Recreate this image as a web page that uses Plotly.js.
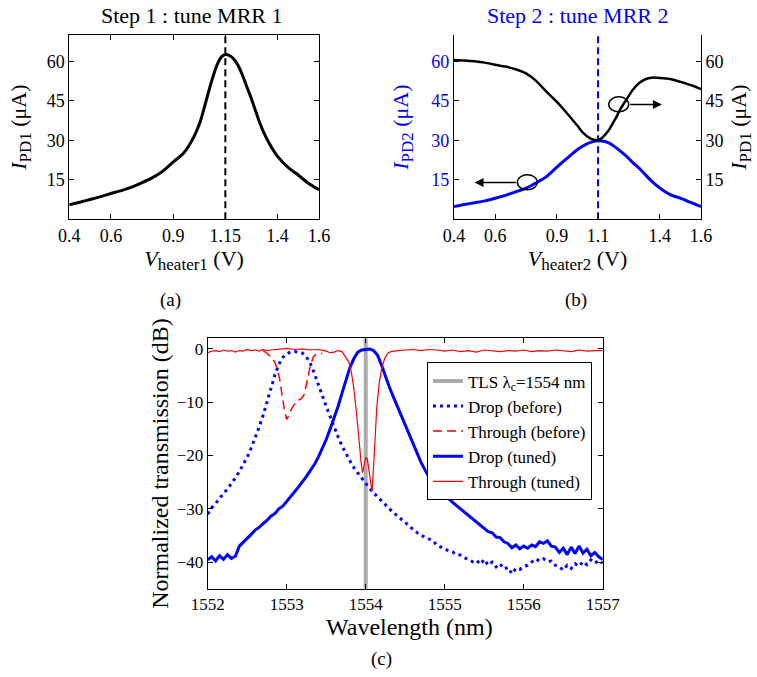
<!DOCTYPE html>
<html><head><meta charset="utf-8">
<script src="https://cdn.plot.ly/plotly-3.0.1.min.js"></script>
<style>html,body{margin:0;padding:0;background:#fff}</style>
</head><body><div id="chart" style="width:757px;height:677px"></div>
<script>
// ---- Panel (a): step 1 ----
const aVoltage = [0.40,0.45,0.50,0.55,0.60,0.65,0.70,0.75,0.80,0.85,0.90,0.95,1.00,1.03,1.05,1.07,1.09,1.11,1.13,1.15,1.17,1.19,1.21,1.23,1.25,1.27,1.29,1.31,1.33,1.36,1.40,1.45,1.50,1.55,1.60];
const aCurrent = [5.5,6.5,7.5,8.6,9.8,10.9,12.2,13.9,15.8,18.3,21.8,25.2,31.5,37.2,42.8,48.6,54.0,58.6,61.6,62.6,62.2,60.9,58.6,55.2,51.0,46.9,42.4,37.8,33.8,29.0,24.0,19.8,16.8,13.6,11.2];
const aTuneV = 1.15;
// ---- Panel (b): step 2 ----
const bVoltage = [0.40,0.45,0.50,0.55,0.60,0.65,0.70,0.75,0.80,0.85,0.90,0.95,1.00,1.03,1.06,1.08,1.10,1.12,1.15,1.18,1.21,1.24,1.27,1.30,1.33,1.36,1.40,1.45,1.50,1.55,1.60];
const bPD1 = [60.5,60.3,60.0,59.5,58.7,58.0,57.0,55.4,52.5,48.4,44.6,40.2,35.5,32.6,30.8,30.2,30.2,31.0,33.6,37.6,42.0,45.8,49.3,51.8,53.2,53.8,53.7,53.3,52.2,51.0,49.5];
const bPD2 = [4.8,5.6,6.3,7.0,8.0,9.1,10.4,11.8,13.9,16.2,19.8,23.2,26.5,28.0,29.1,29.6,29.8,29.7,29.1,27.6,25.8,23.8,21.4,19.4,16.9,14.5,11.9,9.4,8.0,6.4,4.8];
const bTuneV = 1.1;
const leftEllipse = [0.708, 11.2, 0.805, 16.9];
const rightEllipse = [1.152, 40.8, 1.249, 46.5];
const leftArrow = {tail:[0.708, 14.0], head:[0.50, 14.0]};
const rightArrow = {tail:[1.249, 43.6], head:[1.41, 43.6]};
const currentRange = [0, 70];
const currentTicks = [15, 30, 45, 60];
// ---- Panel (c): spectra ----
const tlsWavelength = 1554;
const specRange = [-45, 2];
const gridWl = [1552.00,1552.05,1552.10,1552.15,1552.20,1552.25,1552.30,1552.35,1552.40,1552.45,1552.50,1552.55,1552.60,1552.65,1552.70,1552.75,1552.80,1552.85,1552.90,1552.95,
1553.00,1553.05,1553.10,1553.15,1553.20,1553.25,1553.30,1553.35,1553.40,1553.45,1553.50,1553.55,1553.60,1553.65,1553.70,1553.75,1553.80,1553.85,1553.90,1553.95,
1554.00,1554.05,1554.10,1554.15,1554.20,1554.25,1554.30,1554.35,1554.40,1554.45,1554.50,1554.55,1554.60,1554.65,1554.70,1554.75,1554.80,1554.85,1554.90,1554.95,
1555.00,1555.05,1555.10,1555.15,1555.20,1555.25,1555.30,1555.35,1555.40,1555.45,1555.50,1555.55,1555.60,1555.65,1555.70,1555.75,1555.80,1555.85,1555.90,1555.95,
1556.00,1556.05,1556.10,1556.15,1556.20,1556.25,1556.30,1556.35,1556.40,1556.45,1556.50,1556.55,1556.60,1556.65,1556.70,1556.75,1556.80,1556.85,1556.90,1556.95,1557.00];
const dropTuned = [-39.6,-39.0,-39.8,-38.8,-39.5,-38.6,-39.3,-38.9,-37.0,-36.3,-35.6,-34.8,-34.0,-33.5,-32.8,-32.2,-31.4,-30.9,-30.0,-29.5,
-28.6,-27.8,-26.8,-25.9,-25.0,-23.9,-22.8,-21.7,-20.3,-18.7,-17.0,-15.0,-13.0,-10.8,-8.3,-5.8,-3.5,-1.8,-0.6,-0.2,
-0.1,0.0,-0.3,-1.2,-3.0,-5.2,-7.2,-9.0,-10.8,-12.6,-14.3,-16.0,-17.8,-19.6,-21.3,-22.7,-24.0,-25.0,-25.8,-26.7,
-27.4,-28.1,-28.8,-29.4,-30.0,-30.6,-31.2,-31.8,-32.5,-33.1,-33.6,-34.3,-34.5,-35.3,-35.4,-36.2,-36.5,-37.3,-36.8,-37.5,
-37.0,-37.4,-36.8,-37.1,-36.2,-36.5,-36.0,-37.0,-37.2,-38.2,-37.4,-38.6,-37.2,-38.4,-37.0,-38.3,-37.6,-38.8,-38.2,-39.0,-39.5];
const dropBefore = [-31.0,-29.8,-29.0,-28.0,-27.1,-26.3,-25.3,-24.2,-23.0,-21.7,-20.3,-18.6,-16.8,-14.7,-12.5,-10.0,-7.5,-4.9,-2.9,-1.6,
-0.9,-0.6,-0.5,-0.6,-0.8,-1.5,-2.8,-4.6,-6.8,-8.9,-10.8,-12.7,-14.7,-16.5,-18.2,-19.7,-21.0,-22.3,-23.3,-24.3,
-25.4,-26.2,-27.0,-27.8,-28.5,-29.3,-30.0,-30.7,-31.3,-32.0,-32.6,-33.2,-33.9,-34.4,-35.0,-35.3,-35.7,-36.0,-36.8,-37.2,
-37.5,-37.9,-38.1,-38.6,-38.7,-39.2,-39.5,-39.9,-39.6,-40.4,-39.5,-40.6,-40.0,-40.9,-40.3,-41.3,-41.0,-42.2,-41.2,-41.4,
-40.8,-40.6,-40.0,-39.4,-39.8,-39.4,-39.9,-39.8,-40.6,-40.9,-41.5,-40.6,-41.2,-40.3,-40.8,-39.9,-40.5,-39.6,-40.2,-39.7,-40.2];
const throughBeforeWl = [1552.70,1552.75,1552.80,1552.85,1552.88,1552.91,1552.94,1552.97,1553.00,1553.03,1553.06,1553.10,1553.14,1553.18,1553.22,1553.26,1553.30,1553.34,1553.38,1553.42,1553.45];
const throughBefore = [-0.3,-0.8,-1.5,-2.5,-3.8,-5.6,-8.5,-11.5,-13.2,-12.4,-11.3,-10.3,-9.6,-9.4,-8.6,-6.0,-3.1,-1.4,-0.9,-0.9,-0.8];
const throughTunedWl = [1552.00,1552.05,1552.10,1552.15,1552.20,1552.25,1552.30,1552.35,1552.40,1552.45,1552.50,1552.55,1552.60,1552.65,1552.70,1552.75,1552.80,1552.90,1553.00,1553.10,1553.20,1553.30,1553.40,1553.50,1553.55,1553.60,1553.65,1553.70,1553.73,1553.76,1553.79,1553.82,1553.85,1553.88,1553.91,1553.94,1553.96,1553.98,1554.00,1554.02,1554.04,1554.06,1554.08,1554.10,1554.12,1554.14,1554.17,1554.20,1554.24,1554.28,1554.32,1554.40,1554.50,1554.60,1554.70,1554.80,1554.90,1555.00,1555.10,1555.20,1555.30,1555.40,1555.50,1555.60,1555.70,1555.80,1555.90,1556.00,1556.10,1556.20,1556.30,1556.40,1556.50,1556.60,1556.70,1556.80,1556.90,1557.00];
const throughTuned = [-0.7,-0.4,-0.3,-0.5,-0.2,-0.4,-0.3,-0.6,-0.3,-0.4,-0.1,-0.3,-0.2,-0.4,-0.1,-0.3,-0.2,-0.1,0.1,-0.1,0.0,-0.2,-0.1,-0.4,-0.7,-0.6,-0.3,-0.5,-1.2,-1.8,-2.6,-4.5,-7.5,-11.5,-16.5,-21.0,-23.2,-22.0,-20.4,-20.6,-22.8,-25.5,-26.8,-22.0,-16.0,-11.0,-6.5,-3.8,-1.8,-0.8,-0.5,-0.3,-0.2,-0.1,-0.3,-0.1,-0.2,-0.4,-0.2,-0.5,-0.3,-0.6,-0.2,-0.4,-0.5,-0.3,-0.4,-0.2,-0.5,-0.3,-0.4,-0.2,-0.3,-0.5,-0.2,-0.4,-0.3,-0.3];
const specYTicks = [-40,-30,-20,-10,0];
const specYLabels = ['\u221240','\u221230','\u221220','\u221210','0'];
const specXTicks = [1552,1553,1554,1555,1556,1557];

const SERIF = 'Liberation Serif';
const BLUE = '#0000ff';
function tf(size, color) { return {family: SERIF, size: size, color: color || 'black'}; }
function sub(t) { return '<sub><span style="font-size:17px">' + t + '</span></sub>'; }
function axis(extra) {
  return Object.assign({showline:true, linecolor:'black', linewidth:1, mirror:'ticks', ticks:'inside', ticklen:5,
    tickcolor:'black', showgrid:false, zeroline:false, tickfont:tf(18), automargin:false, fixedrange:true}, extra);
}
function label(x, y, text, size, color, angle) {
  return {xref:'paper', yref:'paper', x:x, y:y, xanchor:'center', yanchor:'middle', text:text, showarrow:false,
    font:tf(size, color), textangle:angle || 0};
}

const traces = [
  {x:aVoltage, y:aCurrent, xaxis:'x', yaxis:'y', mode:'lines', line:{color:'black', width:3, shape:'spline', smoothing:0.6}, showlegend:false},
  {x:[aTuneV,aTuneV], y:currentRange, xaxis:'x', yaxis:'y', mode:'lines', line:{color:'black', width:2, dash:'7px,4px'}, showlegend:false},
  {x:bVoltage, y:bPD1, xaxis:'x2', yaxis:'y5', mode:'lines', line:{color:'black', width:2.5, shape:'spline', smoothing:0.6}, showlegend:false},
  {x:bVoltage, y:bPD2, xaxis:'x2', yaxis:'y2', mode:'lines', line:{color:BLUE, width:3, shape:'spline', smoothing:0.6}, showlegend:false},
  {x:[bTuneV,bTuneV], y:currentRange, xaxis:'x2', yaxis:'y2', mode:'lines', line:{color:BLUE, width:2, dash:'7px,4px'}, showlegend:false},
  {x:[tlsWavelength,tlsWavelength], y:specRange, xaxis:'x3', yaxis:'y3', mode:'lines', line:{color:'#aaaaaa', width:4},
    name:'TLS λ<sub>c</sub>=1554 nm'},
  {x:gridWl, y:dropBefore, xaxis:'x3', yaxis:'y3', mode:'lines', line:{color:BLUE, width:3, dash:'3px,4px'}, name:'Drop (before)'},
  {x:throughBeforeWl, y:throughBefore, xaxis:'x3', yaxis:'y3', mode:'lines', line:{color:'red', width:1.5, dash:'9px,5px'}, name:'Through (before)'},
  {x:gridWl, y:dropTuned, xaxis:'x3', yaxis:'y3', mode:'lines', line:{color:BLUE, width:3}, name:'Drop (tuned)'},
  {x:throughTunedWl, y:throughTuned, xaxis:'x3', yaxis:'y3', mode:'lines', line:{color:'red', width:1.2}, name:'Through (tuned)'}
];

const layout = {
  width:757, height:677, margin:{l:0,r:0,t:0,b:0}, paper_bgcolor:'white', plot_bgcolor:'white',
  font:tf(18),
  xaxis: axis({domain:[0.0915,0.4214], anchor:'y', range:[0.4,1.6], tickvals:[0.4,0.6,0.9,1.15,1.4,1.6], ticktext:['0.4','0.6','0.9','1.15','1.4','1.6'],
    title:{text:'<i>V</i>' + sub('heater1') + ' (V)', font:tf(22), standoff:0}}),
  yaxis: axis({domain:[0.6761,0.9483], anchor:'x', range:currentRange, tickvals:currentTicks,
    title:{text:'<i>I</i>' + sub('PD1') + ' (μA)', font:tf(22), standoff:13}}),
  xaxis2: axis({domain:[0.5997,0.9260], anchor:'y2', mirror:false, range:[0.4,1.6], tickvals:[0.4,0.6,0.9,1.1,1.4,1.6], ticktext:['0.4','0.6','0.9','1.1','1.4','1.6'],
    title:{text:'<i>V</i>' + sub('heater2') + ' (V)', font:tf(22), standoff:0}}),
  yaxis2: axis({domain:[0.6761,0.9483], anchor:'x2', mirror:false, range:currentRange, tickvals:currentTicks,
    tickfont:tf(18, BLUE),
    title:{text:'<i>I</i>' + sub('PD2') + ' (μA)', font:tf(22, BLUE), standoff:16}}),
  yaxis5: axis({domain:[0.6761,0.9483], anchor:'x2', overlaying:'y2', side:'right', mirror:false, range:currentRange, tickvals:currentTicks,
    title:{text:'<i>I</i>' + sub('PD1') + ' (μA)', font:tf(22), standoff:8}}),
  xaxis3: axis({domain:[0.2744,0.7962], anchor:'y3', range:[1552,1557], tickvals:specXTicks, tickfont:tf(17)}),
  yaxis3: axis({domain:[0.1304,0.5003], anchor:'x3', range:specRange, tickvals:specYTicks, ticktext:specYLabels, tickfont:tf(17),
    title:{text:'Normalized transmission (dB)', font:tf(24), standoff:1}}),
  legend:{x:0.564, y:0.4648, xanchor:'left', yanchor:'top', bgcolor:'white', bordercolor:'black', borderwidth:1,
    font:tf(17), tracegroupgap:0, itemwidth:30},
  shapes:[
    {type:'circle', xref:'x2', yref:'y2', x0:leftEllipse[0], y0:leftEllipse[1], x1:leftEllipse[2], y1:leftEllipse[3], line:{color:'black', width:1.5}},
    {type:'circle', xref:'x2', yref:'y2', x0:rightEllipse[0], y0:rightEllipse[1], x1:rightEllipse[2], y1:rightEllipse[3], line:{color:'black', width:1.5}}
  ],
  annotations:[
    {xref:'x2', yref:'y2', axref:'x2', ayref:'y2', x:leftArrow.head[0], y:leftArrow.head[1], ax:leftArrow.tail[0], ay:leftArrow.tail[1],
      text:'', showarrow:true, arrowhead:2, arrowsize:1.2, arrowwidth:1.5, arrowcolor:'black'},
    {xref:'x2', yref:'y2', axref:'x2', ayref:'y2', x:rightArrow.head[0], y:rightArrow.head[1], ax:rightArrow.tail[0], ay:rightArrow.tail[1],
      text:'', showarrow:true, arrowhead:2, arrowsize:1.2, arrowwidth:1.5, arrowcolor:'black'},
    label(0.2536, 0.9778, 'Step 1 : tune MRR 1', 22),
    label(0.7635, 0.9778, 'Step 2 : tune MRR 2', 22, BLUE),
    label(0.5416, 0.0738, 'Wavelength (nm)', 24),
    label(0.2246, 0.5569, '(a)', 19),
    label(0.7609, 0.5569, '(b)', 19),
    label(0.5046, 0.0266, '(c)', 19)
  ]
};
Plotly.newPlot('chart', traces, layout, {displayModeBar:false, staticPlot:true});
</script></body></html>
